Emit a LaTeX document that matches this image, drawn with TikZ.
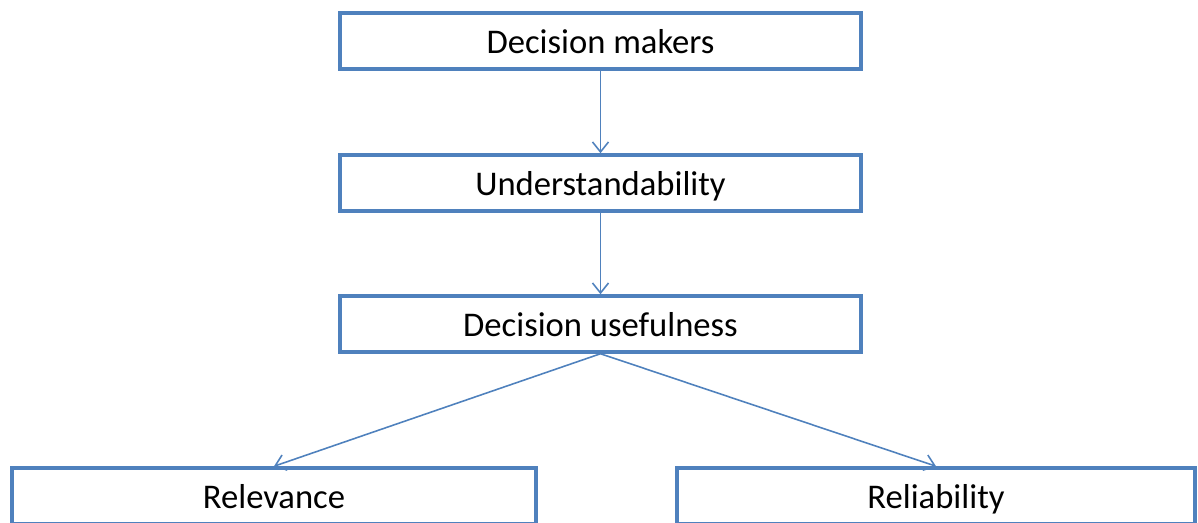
\documentclass[tikz,border=0pt]{standalone}
\usepackage{fontspec}
\setmainfont{Carlito}
\usepackage{tikz}
\usetikzlibrary{arrows.meta}
\usetikzlibrary{positioning}
\definecolor{officeblue}{RGB}{79,129,189}
\tikzset{
    block/.style={
        draw=officeblue,
        rectangle,
        line width=2pt,
        fill=white,
        minimum height=1.12cm,
        inner sep=0pt,
        text height=15pt,
        text depth=0.3pt,
        font=\fontsize{19.7}{24}\selectfont
    },
    link/.style={
        draw=officeblue,
        line width=0.9pt,
        -{Straight Barb[length=2mm, width=3.2mm]}
    }
}

\begin{document}
\begin{tikzpicture}[x=0.02cm, y=-0.02cm]
  \useasboundingbox (0,0) rectangle (1198,523);
  % Chain of boxes
  \node[block, minimum width=10.42cm] (dm) at (600.5,41) {Decision makers};
  \node[block, minimum width=10.42cm] (und) at (600.5,183) {Understandability};
  \node[block, minimum width=10.42cm] (use) at (600.5,324) {Decision usefulness};

  % Bottom row
  \node[block, minimum width=10.48cm] (rel) at (274,496) {Relevance};
  \node[block, minimum width=10.36cm] (reli) at (936,496) {Reliability};

  % Arrows
  \draw[link] (dm.south) -- (und.north);
  \draw[link] (und.south) -- (use.north);
  \draw[link] (use.south) -- (rel.north);
  \draw[link] (use.south) -- (reli.north);
\end{tikzpicture}
\end{document}
